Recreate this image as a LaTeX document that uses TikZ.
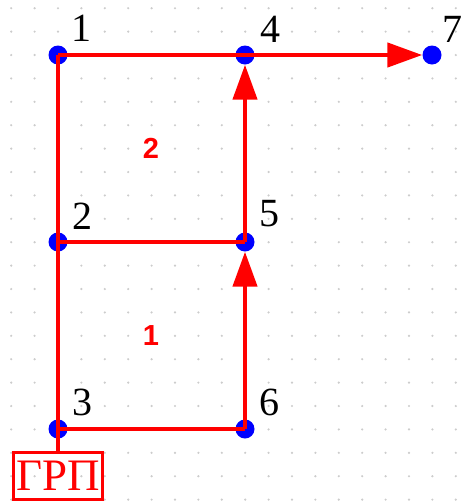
\documentclass[tikz,border=0pt]{standalone}
\usepackage{fontspec}
\setmainfont{Liberation Serif}
\newfontfamily\regionfont{Liberation Sans}
\usepackage{tikz}
\usetikzlibrary{positioning,arrows.meta}

\begin{document}
\begin{tikzpicture}[
        x=1pt, y=-1pt,
        node distance=187pt, on grid,
        vertex/.style={circle,fill=blue,inner sep=0pt,minimum size=19pt},
        numlbl/.style={inner sep=0pt,font=\fontsize{40}{40}\selectfont},
        region/.style={text=red,font=\regionfont\bfseries\fontsize{29}{29}\selectfont},
        pipe/.style={red,line width=4.5pt},
        flow/.style={pipe,-{Triangle[length=35pt,width=24pt]}},
        grp/.style={draw=red,line width=3pt,text=red,inner xsep=3pt,inner ysep=9pt,font=\fontsize{45}{45}\selectfont}]
    ]
        \fill[white] (0,0) rectangle (464,504);
        \useasboundingbox (0,0) rectangle (464,504);
        % dotted grid
        \foreach \i in {0,...,19}
            \foreach \j in {0,...,21}
                \fill[gray!40] (11.2+\i*23.4, 8.2+\j*23.4) circle (1.2pt);

        \node[vertex] (n1) at (58,55) {};
        \node[vertex] (n4) [right=of n1] {};
        \node[vertex] (n7) [right=of n4] {};
        \node[vertex] (n2) [below=of n1] {};
        \node[vertex] (n5) [right=of n2] {};
        \node[vertex] (n3) [below=of n2] {};
        \node[vertex] (n6) [right=of n3] {};
        \node[grp] (grp) [below=47pt of n3] {ГРП};

        \node[numlbl] (l1) [above right=27pt and 23pt of n1] {1};
        \node[numlbl] (l4) [above right=26pt and 25pt of n4] {4};
        \node[numlbl] (l7) [above right=26pt and 20pt of n7] {7};
        \node[numlbl] (l2) [above right=26pt and 24pt of n2] {2};
        \node[numlbl] (l5) [above right=28pt and 24pt of n5] {5};
        \node[numlbl] (l3) [above right=27pt and 24pt of n3] {3};
        \node[numlbl] (l6) [above right=27pt and 24pt of n6] {6};

        \node[region] (r2) at (151,148) {2};
        \node[region] (r1) at (151,336) {1};

        \draw[pipe] (n1.center) -- (n4.center);
        \draw[pipe] (n1.center) -- (n3.center);
        \draw[pipe] (n2.center) -- (n5.center);
        \draw[pipe] (n3.center) -- (n6.center);
        \draw[pipe] (n3.center) -- (grp);
        \draw[flow] (n4.center) -- (n7);
        \draw[flow] (n6.center) -- (n5);
        \draw[flow] (n5.center) -- (n4);
    \end{tikzpicture}
\end{document}
